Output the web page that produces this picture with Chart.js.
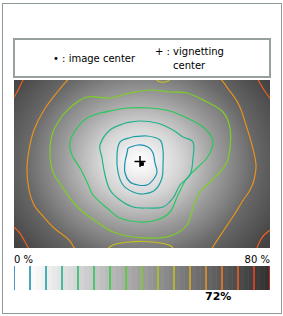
<!DOCTYPE html>
<html>
<head>
<meta charset="utf-8">
<script src="https://cdn.jsdelivr.net/npm/chart.js@4/dist/chart.umd.min.js"></script>
<style>
  body { margin: 0; background: #fff; font-family: "DejaVu Sans", Verdana, sans-serif; }
  #frame { position: absolute; left: 2px; top: 3px; width: 280px; height: 311px; border: 1px solid #8f9997; box-sizing: border-box; }
  #legend { position: absolute; left: 13px; top: 38px; width: 258px; height: 40px; border: 2px solid #97a09f; box-sizing: border-box; }
  .t { position: absolute; font-size: 10px; line-height: 12px; white-space: nowrap; color: #000; }
  #map { position: absolute; left: 14px; top: 80px; }
  #bar { position: absolute; left: 14px; top: 266px; }
</style>
</head>
<body>
<div id="frame"></div>
<div id="legend"></div>
<span class="t" style="left:53px;top:53px">&bull; : image center</span>
<span class="t" style="left:155px;top:46px">+ : vignetting</span>
<span class="t" style="left:173px;top:60px">center</span>
<canvas id="map" width="256" height="168"></canvas>
<span class="t" style="left:14px;top:254px">0 %</span>
<span class="t" style="right:13px;top:254px">80 %</span>
<canvas id="bar" width="256" height="24"></canvas>
<span class="t" style="left:205px;top:291px;font-size:11px;font-weight:bold">72%</span>
<script>
// contour levels of the colour bar (vignetting, %)
const levels = [0, 5, 10, 15, 20, 25, 30, 35, 40, 45, 50, 55, 60, 65, 70, 75, 80];
const levelColors = ['#1f7ab8', '#1a8fb0', '#1ca0a2', '#20b28c', '#22c070', '#26c95a', '#30d040', '#50d030', '#7ccf26', '#a6cb20',
  '#c4c01e', '#d8aa1c', '#e8921e', '#f0781e', '#f05e1e', '#f0421e', '#e0261e'];

// gray bands in the colour bar, start value of each band (%)
const bandStarts = [0, 1.7, 3.3, 5, 6.7, 8.3, 10, 11.7, 13.3, 15, 16.7, 18.3, 20, 21.7, 23.3, 25, 26.7, 28.3, 30, 31.7, 33.3,
  35, 36.7, 38.3, 40, 41.7, 43.3, 45, 46.7, 48.3, 50, 51.7, 53.3, 55, 56.7, 58.3, 60, 61.7, 63.3, 65, 66.7, 68.3, 70, 71.7,
  73.3, 75, 76.7, 78.3];

// image falloff: distance from vignetting center (px) -> vignetting (%)
const falloffRadius = [0, 12, 20, 34, 48, 68, 84, 98, 124, 136];
const falloffLevel = [0, 5, 10, 16, 26, 40, 50, 59, 69, 74];

const imageCenter = [128, 84];
const vignettingCenter = [126, 81.5];

// contour lines, [x, y] in image pixels
const contour05 = [[114,68],[124,65],[134,67],[139,73],[141,83],[143,92],[139,100],[133,105],[124,105],[116,102],[111,93],[111,82],[113,73],[114,68]];
const contour10 = [[118,57],[133,56],[146,60],[149,70],[149,85],[148,98],[141,110],[129,114],[119,112],[109,105],[104,92],[103,75],[106,62],[118,57]];
const contour15 = [[111,43],[126,41],[143,43],[159,50],[169,57],[179,62],[179,78],[176,95],[166,105],[159,118],[149,127],[133,128],[119,127],
  [106,120],[96,110],[91,95],[88,78],[86,65],[96,50],[111,43]];
const contour25 = [[86,33],[113,28],[136,28],[156,31],[173,38],[189,47],[198,58],[198,68],[193,78],[183,88],[173,98],[164,115],[156,132],
  [143,140],[126,142],[106,138],[93,128],[79,115],[73,102],[66,88],[58,75],[56,62],[63,48],[73,38],[86,33]];
const contour40 = [[59,25],[73,17],[96,18],[116,13],[136,10],[156,12],[173,13],[193,22],[209,32],[216,48],[216,68],[213,82],[206,92],[196,102],
  [186,112],[179,128],[173,145],[159,155],[143,158],[119,157],[99,152],[83,142],[69,132],[59,122],[49,108],[39,92],[36,72],[39,52],[49,35],[59,25]];
const contour50top = [[139,-4],[145,1.5],[153,1.5],[159,-4]];
const contour50bottom = [[90,172],[99,165],[115,162],[130,161.5],[146,163],[157,166],[161,172]];
const contour60 = [[58,-5],[45,10],[30,30],[20,50],[15,70],[13,90],[15,110],[20,125],[28,135],[40,148],[55,160],[64,172],[130,210],
  [195,172],[200,165],[210,150],[220,135],[228,122],[236,110],[240,100],[242,85],[238,65],[232,45],[225,25],[215,10],[202,-5],[130,-40],[58,-5]];
const contour70a = [[-3,22],[3,12],[8,2],[11,-4]];
const contour70b = [[-3,145],[5,152],[10,160],[16,171]];
const contour70c = [[242,-4],[247,5],[252,13],[259,22]];
const contour70d = [[259,148],[250,155],[245,163],[242,171]];

const contours = [
  { pts: contour05, level: 5 }, { pts: contour10, level: 10 }, { pts: contour15, level: 15 },
  { pts: contour25, level: 25 }, { pts: contour40, level: 40 },
  { pts: contour50top, level: 50 }, { pts: contour50bottom, level: 50 }, { pts: contour60, level: 60 },
  { pts: contour70a, level: 70 }, { pts: contour70b, level: 70 }, { pts: contour70c, level: 70 }, { pts: contour70d, level: 70 },
];

function grayFor(p) {
  const g = Math.round(255 * (1 - p / 100));
  return `rgb(${g}, ${g}, ${g})`;
}
function colorFor(level) {
  return levelColors[levels.indexOf(level)];
}

// paints the vignetting falloff behind the contours, centred on the vignetting center
const falloffBackground = {
  id: 'falloffBackground',
  beforeDatasetsDraw(chart) {
    const { ctx, chartArea: a, scales: { x, y } } = chart;
    const rMax = falloffRadius[falloffRadius.length - 1];
    ctx.save();
    ctx.beginPath();
    ctx.rect(a.left, a.top, a.width, a.height);
    ctx.clip();
    ctx.translate(x.getPixelForValue(vignettingCenter[0]), y.getPixelForValue(vignettingCenter[1]));
    ctx.scale(1.16, 1);
    const grad = ctx.createRadialGradient(0, 0, 0, 0, 0, rMax);
    falloffRadius.forEach((r, i) => grad.addColorStop(r / rMax, grayFor(falloffLevel[i])));
    ctx.fillStyle = grad;
    ctx.fillRect(-400, -400, 800, 800);
    ctx.restore();
  }
};

new Chart(document.getElementById('map'), {
  type: 'scatter',
  data: {
    datasets: [
      ...contours.map(c => ({
        data: c.pts.map(([x, y]) => ({ x, y })),
        showLine: true,
        borderColor: colorFor(c.level),
        borderWidth: 1.2,
        pointRadius: 0,
        tension: 0.35,
      })),
      {
        data: [{ x: imageCenter[0], y: imageCenter[1] }],
        pointStyle: 'rect',
        pointRadius: 2,
        backgroundColor: '#000',
        borderColor: '#000',
        order: -1,
      },
      {
        data: [{ x: vignettingCenter[0], y: vignettingCenter[1] }],
        pointStyle: 'cross',
        pointRadius: 5.5,
        borderWidth: 1.5,
        borderColor: '#000',
        order: -1,
      },
    ]
  },
  options: {
    responsive: false,
    animation: false,
    devicePixelRatio: 1,
    layout: { padding: 0, autoPadding: false },
    scales: {
      x: { type: 'linear', display: false, min: 0, max: 256 },
      y: { type: 'linear', display: false, min: 0, max: 168, reverse: true },
    },
    plugins: { legend: { display: false }, tooltip: { enabled: false } },
  },
  plugins: [falloffBackground],
});

// colour bar: gray bands plus a coloured mark at every contour level
function bandShade(s) {
  return s < 5 ? grayFor(0) : grayFor((s - 3.3) * 80 / 75);
}

new Chart(document.getElementById('bar'), {
  type: 'bar',
  data: {
    labels: ['scale'],
    datasets: [
      ...bandStarts.map((s, i) => ({
        data: [[s, i + 1 < bandStarts.length ? bandStarts[i + 1] : 80]],
        backgroundColor: bandShade(s),
        borderWidth: 0,
        grouped: false,
        categoryPercentage: 1,
        barPercentage: 1,
      })),
      {
        type: 'scatter',
        data: levels.map(l => ({ x: l, y: 'scale' })),
        pointStyle: 'line',
        pointRotation: 90,
        pointRadius: 12,
        pointBorderWidth: 1.6,
        pointBorderColor: levelColors,
        order: -1,
      },
    ]
  },
  options: {
    indexAxis: 'y',
    responsive: false,
    animation: false,
    devicePixelRatio: 1,
    layout: { padding: 0, autoPadding: false },
    scales: {
      x: { type: 'linear', display: false, min: 0, max: 80 },
      y: { type: 'category', display: false },
    },
    plugins: { legend: { display: false }, tooltip: { enabled: false } },
  },
});
</script>
</body>
</html>
